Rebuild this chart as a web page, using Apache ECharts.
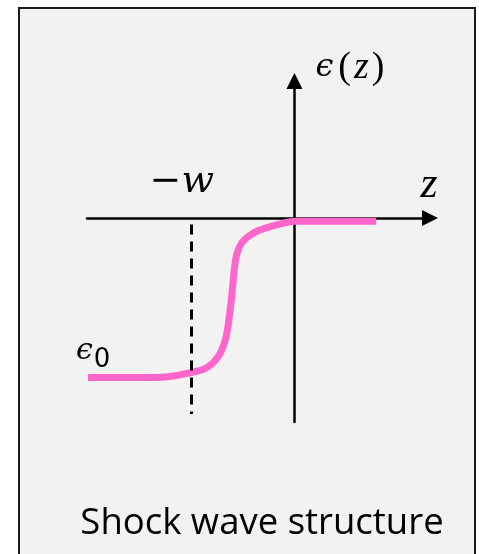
<!DOCTYPE html>
<html>
<head>
<meta charset="utf-8">
<script src="https://cdn.jsdelivr.net/npm/echarts@6/dist/echarts.min.js"></script>
<style>
  html, body { margin: 0; padding: 0; background: #ffffff; }
  #chart { width: 479px; height: 554px; }
</style>
</head>
<body>
<div id="chart"></div>
<script>
// Shock front profile epsilon(z): relaxes from epsilon_0 (left) to ~0 (right)
const zValues   = [-2.01, -1.40, -1.262, -1.16, -1.07, -0.997, -0.890, -0.809, -0.745, -0.702, -0.670, -0.648, -0.631, -0.615, -0.599, -0.583, -0.560, -0.517, -0.453, -0.356, -0.243, -0.114, 0, 0.796];
const epsValues = [-1.0, -1.0, -0.998, -0.990, -0.978, -0.968, -0.950, -0.918, -0.872, -0.819, -0.757, -0.684, -0.599, -0.516, -0.411, -0.306, -0.222, -0.159, -0.118, -0.080, -0.055, -0.033, -0.02, -0.02];
// Shock width marker at z = -w
const shockWidth = 1.0;
const markerSpan = [-0.04, -1.23];
// Axis ranges
const zRange   = [-2.02, 1.32];
const epsRange = [-1.28, 0.86];
// Texts
const yAxisLabel = ['ϵ', '(', 'z', ')'];
const xAxisLabel = 'z';
const widthLabel = '−w';
const eps0Label  = ['ϵ', '0'];
const captionText = 'Shock wave structure';

const serifA = '"DejaVu Serif", serif';
const serifB = '"Liberation Serif", "DejaVu Serif", serif';

const chart = echarts.init(document.getElementById('chart'), null, { renderer: 'canvas' });

const axisCommon = {
  type: 'value',
  axisLabel: { show: false },
  axisTick: { show: false },
  splitLine: { show: false },
  axisLine: {
    show: true,
    onZero: true,
    symbol: ['none', 'triangle'],
    symbolSize: [16, 16],
    lineStyle: { color: '#000', width: 2.5 }
  }
};

const frame = {
  type: 'rect',
  z: -10,
  shape: { x: 19, y: 8, width: 456, height: 570 },
  style: { fill: '#f2f2f2', stroke: '#1a1a1a', lineWidth: 2 }
};

chart.setOption({
  animation: false,
  backgroundColor: '#ffffff',
  grid: { left: 87, right: 49, top: 81, bottom: 132, containLabel: false },
  xAxis: Object.assign({}, axisCommon, { min: zRange[0], max: zRange[1] }),
  yAxis: Object.assign({}, axisCommon, { min: epsRange[0], max: epsRange[1] }),
  graphic: [frame],
  series: [{
    type: 'line',
    data: zValues.map((z, i) => [z, epsValues[i]]),
    smooth: 0.25,
    showSymbol: false,
    lineStyle: { color: '#ff66cc', width: 7, cap: 'butt', join: 'round' },
    z: 3,
    markLine: {
      silent: true,
      symbol: ['none', 'none'],
      label: { show: false },
      lineStyle: { color: '#000', width: 3, type: [10, 7] },
      data: [[{ coord: [-shockWidth, markerSpan[0]] }, { coord: [-shockWidth, markerSpan[1]] }]]
    }
  }]
});

// Labels anchored to the axes and data positions
const wPos = chart.convertToPixel({ gridIndex: 0 }, [-shockWidth, 0]);
const leftEnd = chart.convertToPixel({ gridIndex: 0 }, [zValues[0], epsValues[0]]);
const xEnd = chart.convertToPixel({ gridIndex: 0 }, [zRange[1], 0]);
const yEnd = chart.convertToPixel({ gridIndex: 0 }, [0, epsRange[1]]);

chart.setOption({
  graphic: [
    frame,
    {
      type: 'text', z: 10,
      x: yEnd[0] + 21, y: yEnd[1] - 13,
      style: {
        text: '{e|' + yAxisLabel[0] + '}{p|' + yAxisLabel[1] + '}{z|' + yAxisLabel[2] + '}{p|' + yAxisLabel[3] + '}',
        verticalAlign: 'middle', align: 'left',
        rich: {
          e: { font: 'italic 32px ' + serifA, fill: '#000', padding: [0, 3, 0, 0] },
          p: { font: '38px ' + serifB, fill: '#000', padding: [0, 2, 0, 2] },
          z: { font: 'italic 38px ' + serifB, fill: '#000', padding: [0, 1, 0, 1] }
        }
      }
    },
    {
      type: 'text', z: 10,
      x: xEnd[0] - 1, y: xEnd[1] - 33,
      style: { text: xAxisLabel, font: 'italic 44px ' + serifB, fill: '#000', align: 'center', verticalAlign: 'middle' }
    },
    {
      type: 'text', z: 10,
      x: wPos[0] - 10, y: wPos[1] - 36,
      style: { text: widthLabel, font: 'italic 38px ' + serifA, fill: '#000', align: 'center', verticalAlign: 'middle' }
    },
    {
      type: 'text', z: 10,
      x: leftEnd[0] - 12, y: leftEnd[1] - 26,
      style: {
        text: '{e|' + eps0Label[0] + '}{s|' + eps0Label[1] + '}',
        align: 'left', verticalAlign: 'middle',
        rich: {
          e: { font: 'italic 30px ' + serifA, fill: '#000' },
          s: { font: '26px "DejaVu Sans", sans-serif', fill: '#000', padding: [18, 0, 0, 1] }
        }
      }
    },
    {
      type: 'text', z: 10,
      x: 262, y: 524,
      style: { text: captionText, font: '36.5px "Open Sans", sans-serif', fill: '#000', align: 'center', verticalAlign: 'middle' }
    }
  ]
});
</script>
</body>
</html>
